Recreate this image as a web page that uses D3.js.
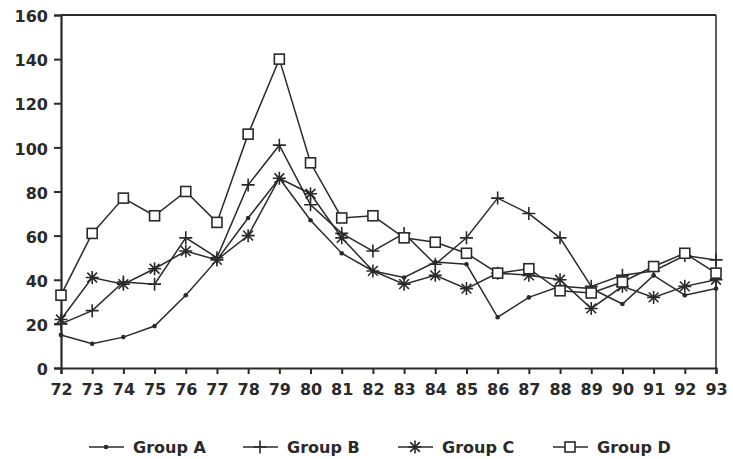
<!DOCTYPE html>
<html>
<head>
<meta charset="utf-8">
<script src="https://cdn.jsdelivr.net/npm/d3@7"></script>
<style>
  html, body { margin: 0; padding: 0; background: #fff; }
  svg { display: block; }
  text { font-family: "DejaVu Sans", Arial, sans-serif; font-weight: bold; fill: #2a2a2a; }
</style>
</head>
<body>
<svg id="chart" width="733" height="459"></svg>
<script>
const years = ["72","73","74","75","76","77","78","79","80","81","82","83","84","85","86","87","88","89","90","91","92","93"];
const groupA = [15, 11, 14, 19, 33, 49, 68, 86, 67, 52, 44, 41, 48, 47, 23, 32, 37, 36, 29, 42, 33, 36];
const groupB = [20, 26, 39, 38, 59, 50, 83, 101, 74, 61, 53, 61, 47, 59, 77, 70, 59, 37, 42, 44, 51, 49];
const groupC = [22, 41, 38, 45, 53, 49, 60, 86, 79, 59, 44, 38, 42, 36, 43, 42, 40, 27, 37, 32, 37, 40];
const groupD = [33, 61, 77, 69, 80, 66, 106, 140, 93, 68, 69, 59, 57, 52, 43, 45, 35, 34, 39, 46, 52, 43];
const seriesNames = ["Group A", "Group B", "Group C", "Group D"];
const yTicks = [0, 20, 40, 60, 80, 100, 120, 140, 160];

(function () {
const series = [
  {name: seriesNames[0], values: groupA, marker: "dot"},
  {name: seriesNames[1], values: groupB, marker: "plus"},
  {name: seriesNames[2], values: groupC, marker: "star"},
  {name: seriesNames[3], values: groupD, marker: "square"}
];

const ink = "#2a2a2a";
const svg = d3.select("#chart");
const pLeft = 61, pRight = 716, pTop = 15, pBottom = 368;

const x = d3.scalePoint().domain(years).range([pLeft, pRight]);
const y = d3.scaleLinear().domain([0, 160]).range([pBottom, pTop]);

// frame top & right
svg.append("line").attr("x1", pLeft).attr("x2", pRight).attr("y1", pTop).attr("y2", pTop)
  .attr("stroke", ink).attr("stroke-width", 2);
svg.append("line").attr("x1", pRight).attr("x2", pRight).attr("y1", pTop).attr("y2", pBottom)
  .attr("stroke", ink).attr("stroke-width", 1.5);

// axes
const yAxis = svg.append("g").attr("transform", `translate(${pLeft},0)`)
  .call(d3.axisLeft(y).tickValues(yTicks).tickSize(7).tickPadding(6));
const xAxis = svg.append("g").attr("transform", `translate(0,${pBottom})`)
  .call(d3.axisBottom(x).tickSize(6).tickPadding(10));
[yAxis, xAxis].forEach(g => {
  g.select(".domain").attr("stroke", ink).attr("stroke-width", 2.2);
  g.selectAll(".tick line").attr("stroke", ink).attr("stroke-width", 2);
  g.selectAll(".tick text").attr("fill", ink).style("font-size", "16px")
    .style("font-family", "'DejaVu Sans', Arial, sans-serif").style("font-weight", "bold");
});
yAxis.selectAll(".tick text").attr("dy", "0.42em");

// lines
const line = d3.line().x((d, i) => x(years[i])).y(d => y(d));
series.forEach(s => {
  svg.append("path").datum(s.values).attr("d", line)
    .attr("fill", "none").attr("stroke", ink).attr("stroke-width", 1.5);
});

function drawMarker(g, type, cx, cy) {
  if (type === "dot") {
    g.append("circle").attr("cx", cx).attr("cy", cy).attr("r", 2.3).attr("fill", ink);
  } else if (type === "plus") {
    const r = 6.5;
    g.append("path").attr("d", `M${cx - r},${cy}H${cx + r}M${cx},${cy - r}V${cy + r}`)
      .attr("stroke", ink).attr("stroke-width", 1.6).attr("fill", "none");
  } else if (type === "star") {
    const r = 6.5, d = r * 0.75;
    g.append("path").attr("d",
      `M${cx - r},${cy}H${cx + r}M${cx},${cy - r}V${cy + r}` +
      `M${cx - d},${cy - d}L${cx + d},${cy + d}M${cx - d},${cy + d}L${cx + d},${cy - d}`)
      .attr("stroke", ink).attr("stroke-width", 1.6).attr("fill", "none");
  } else if (type === "square") {
    const h = 5;
    g.append("rect").attr("x", cx - h).attr("y", cy - h).attr("width", 2 * h).attr("height", 2 * h)
      .attr("fill", "#fff").attr("stroke", ink).attr("stroke-width", 1.6);
  }
}

series.forEach(s => {
  const g = svg.append("g");
  s.values.forEach((v, i) => drawMarker(g, s.marker, x(years[i]), y(v)));
});

// legend
const legendX = [89, 243, 398, 553];
const legendY = 447;
series.forEach((s, i) => {
  const g = svg.append("g");
  const lx = legendX[i];
  g.append("line").attr("x1", lx).attr("x2", lx + 35).attr("y1", legendY).attr("y2", legendY)
    .attr("stroke", ink).attr("stroke-width", 1.5);
  drawMarker(g, s.marker, lx + 17, legendY);
  g.append("text").attr("x", lx + 44).attr("y", legendY + 6).style("font-size", "16px").text(s.name);
});
})();
</script>
</body>
</html>
